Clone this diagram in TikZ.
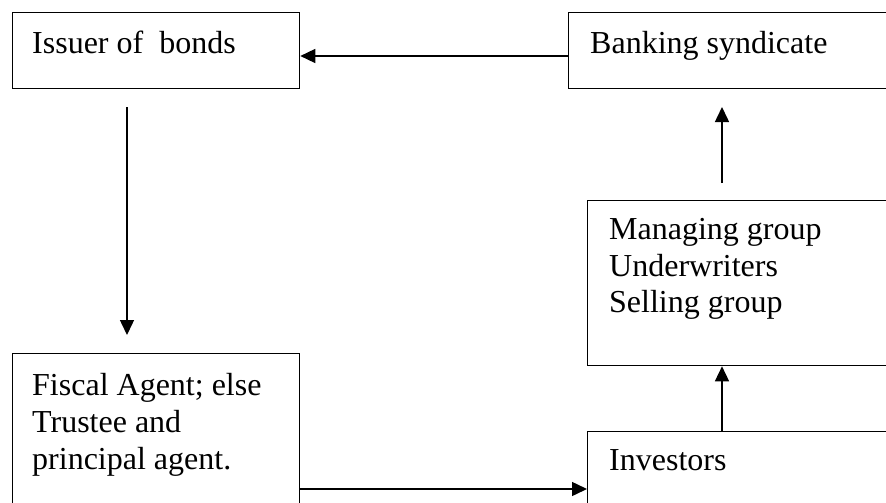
\documentclass[tikz,border=0pt]{standalone}
\usepackage{fontspec}
\setmainfont{Liberation Serif}
\usetikzlibrary{arrows.meta}
\begin{document}
\begin{tikzpicture}[x=1pt,y=-1pt,
  boxframe/.style={draw=black,line width=1.3pt,rectangle,inner sep=0pt,anchor=north west},
  boxtext/.style={anchor=north west,inner sep=0pt,align=left,font=\fontsize{32}{36.8}\selectfont},
  arr/.style={draw=black,line width=1.5pt,-{Triangle[length=15pt,width=14pt]}}]
\useasboundingbox (0,0) rectangle (886,503);
% boxes
\node[boxframe,minimum width=287pt,minimum height=76pt] (issuer) at (12,12) {};
\node[boxframe,minimum width=322pt,minimum height=76pt] (banking) at (568,12) {};
\node[boxframe,minimum width=303pt,minimum height=165pt] (managing) at (587,200) {};
\node[boxframe,minimum width=287pt,minimum height=160pt] (fiscal) at (12,353) {};
\node[boxframe,minimum width=303pt,minimum height=80pt] (investors) at (587,431) {};
% texts
\node[boxtext] (issuerT) at (32,31) {Issuer of~ bonds};
\node[boxtext] (bankingT) at (590,31) {Banking syndicate};
\node[boxtext] (managingT) at (609,218) {Managing group\\Underwriters\\Selling group};
\node[boxtext] (fiscalT) at (32,373) {Fiscal Agent; else\\Trustee and\\principal agent.};
\node[boxtext] (investorsT) at (609,449) {Investors};
% connector helpers
\coordinate (topY) at (0,56);
\coordinate (botY) at (0,489);
\coordinate (upX) at (722,0);
\coordinate (downS) at (127,107);
\coordinate (downE) at (127,335);
\coordinate (upS) at (722,183);
\coordinate (upE) at (722,107);
% connectors
\draw[arr] (banking.west |- topY) -- (issuer.east |- topY);
\draw[arr] (downS) -- (downE);
\draw[arr] (upS) -- (upE);
\draw[arr] (fiscal.east |- botY) -- (investors.west |- botY);
\draw[arr] (investors.north -| upX) -- (managing.south -| upX);
\end{tikzpicture}
\end{document}
